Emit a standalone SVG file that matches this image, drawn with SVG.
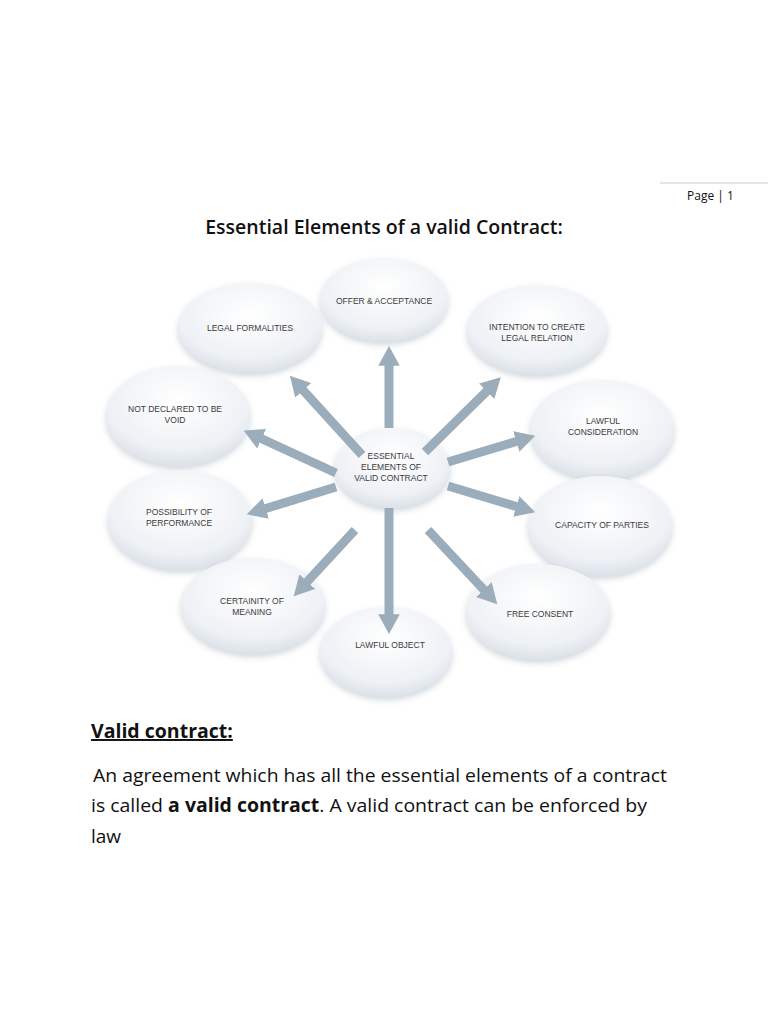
<svg xmlns="http://www.w3.org/2000/svg" width="768" height="1024" viewBox="0 0 768 1024">
<style>
.n{fill:url(#g);filter:url(#s)}
.t{font-family:"Liberation Sans",Arial,sans-serif;font-size:8.5px;fill:#3a3a3a;text-anchor:middle}
.a{stroke:#9badba;stroke-width:9;fill:none;marker-end:url(#h)}
.b{font-family:"Open Sans","Liberation Sans",sans-serif;fill:#111}
</style>
<defs>
<radialGradient id="g" cx="0.5" cy="0.35" r="0.7"><stop offset="0" stop-color="#ffffff"/><stop offset="0.7" stop-color="#eef1f5"/><stop offset="1" stop-color="#d6dde6"/></radialGradient>
<filter id="s" x="-20%" y="-20%" width="140%" height="150%"><feDropShadow dx="0" dy="3" stdDeviation="3" flood-color="#9aa6b2" flood-opacity="0.45"/></filter>
<marker id="h" markerWidth="2.4" markerHeight="2.4" refX="0.2" refY="1.2" orient="auto"><path d="M0,0 L2.2,1.2 L0,2.4 Z" fill="#9badba"/></marker>
</defs>
<rect width="768" height="1024" fill="#fff"/>
<line x1="660" y1="183" x2="768" y2="183" stroke="#ccc"/>
<text x="687" y="200" class="b" font-size="12">Page | 1</text>
<text x="384" y="234" class="b" font-size="19.5" font-weight="600" text-anchor="middle">Essential Elements of a valid Contract:</text>
<g id="offer"><ellipse class="n" cx="384" cy="300" rx="64" ry="42"/><text class="t" x="384" y="304">OFFER &amp; ACCEPTANCE</text></g>
<g id="legal-formalities"><ellipse class="n" cx="250" cy="328" rx="72" ry="45"/><text class="t" x="250" y="331">LEGAL FORMALITIES</text></g>
<g id="intention"><ellipse class="n" cx="537" cy="330" rx="70" ry="45"/><text class="t" x="537" y="330">INTENTION TO CREATE</text><text class="t" x="537" y="341">LEGAL RELATION</text></g>
<g id="not-declared"><ellipse class="n" cx="178" cy="416" rx="72" ry="50"/><text class="t" x="175" y="412">NOT DECLARED TO BE</text><text class="t" x="175" y="423">VOID</text></g>
<g id="lawful-consideration"><ellipse class="n" cx="602" cy="430" rx="72" ry="50"/><text class="t" x="603" y="424">LAWFUL</text><text class="t" x="603" y="435">CONSIDERATION</text></g>
<g id="possibility"><ellipse class="n" cx="180" cy="520" rx="72" ry="50"/><text class="t" x="179" y="515">POSSIBILITY OF</text><text class="t" x="179" y="526">PERFORMANCE</text></g>
<g id="capacity"><ellipse class="n" cx="600" cy="526" rx="72" ry="50"/><text class="t" x="602" y="528">CAPACITY OF PARTIES</text></g>
<g id="certainity"><ellipse class="n" cx="253" cy="606" rx="72" ry="48"/><text class="t" x="252" y="604">CERTAINITY OF</text><text class="t" x="252" y="615">MEANING</text></g>
<g id="free-consent"><ellipse class="n" cx="538" cy="612" rx="72" ry="48"/><text class="t" x="540" y="617">FREE CONSENT</text></g>
<g id="lawful-object"><ellipse class="n" cx="386" cy="652" rx="66" ry="45"/><text class="t" x="390" y="648">LAWFUL OBJECT</text></g>
<g id="center"><ellipse class="n" cx="392" cy="468" rx="58" ry="40"/><text class="t" x="391" y="459" font-size="7.5">ESSENTIAL</text><text class="t" x="391" y="470" font-size="7.5">ELEMENTS OF</text><text class="t" x="391" y="481" font-size="7.5">VALID CONTRACT</text></g>
<g id="connectors">
<line class="a" x1="389" y1="428" x2="389" y2="364"/>
<line class="a" x1="389" y1="508" x2="389" y2="616"/>
<line class="a" x1="362" y1="455" x2="302" y2="389"/>
<line class="a" x1="425" y1="452" x2="488" y2="390"/>
<line class="a" x1="336" y1="473" x2="260" y2="438"/>
<line class="a" x1="448" y1="462" x2="518" y2="441"/>
<line class="a" x1="336" y1="487" x2="264" y2="509"/>
<line class="a" x1="448" y1="486" x2="518" y2="507"/>
<line class="a" x1="355" y1="530" x2="306" y2="583"/>
<line class="a" x1="428" y1="530" x2="485" y2="591"/>
</g>
<text x="91" y="738" class="b" font-size="19.5" font-weight="700" text-decoration="underline">Valid contract:</text>
<text x="93" y="782" class="b" font-size="19" textLength="574" lengthAdjust="spacingAndGlyphs"> An agreement which has all the essential elements of a contract</text>
<text x="91" y="812" class="b" font-size="19" textLength="556" lengthAdjust="spacingAndGlyphs">is called <tspan font-weight="700">a valid contract</tspan>. A valid contract can be enforced by</text>
<text x="91" y="843" class="b" font-size="19">law</text>
</svg>
